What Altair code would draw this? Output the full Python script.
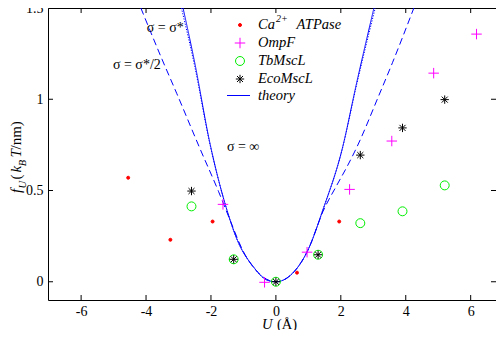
import altair as alt
import pandas as pd

# ---------------- data ----------------
series_names = ["Ca2+ ATPase", "OmpF", "TbMscL", "EcoMscL", "theory"]

ca_u = [-4.55, -3.25, -1.95, 0.65, 1.95]
ca_f = [0.57, 0.23, 0.33, 0.05, 0.33]

ompf_u = [-1.63, -0.35, 0.96, 2.27, 3.57, 4.86, 6.18]
ompf_f = [0.424, -0.003, 0.162, 0.506, 0.771, 1.143, 1.357]

tb_u = [-2.6, -1.3, 0.0, 1.3, 2.6, 3.9, 5.2]
tb_f = [0.413, 0.123, 0.0, 0.148, 0.321, 0.386, 0.528]

eco_u = [-2.6, -1.3, 0.0, 1.3, 2.6, 3.9, 5.2]
eco_f = [0.497, 0.123, 0.0, 0.148, 0.694, 0.843, 0.998]

# theory curves (sigma = infinity, sigma = sigma*, sigma = sigma*/2)
inf_u = [-2.86, -2.5, -2.04, -1.56, -1.18, -0.69, -0.27, 0.0, 0.5, 0.98, 1.47, 2.02, 2.5, 3.02]
inf_f = [1.5, 1.2, 0.766, 0.424, 0.225, 0.081, 0.009, 0.0, 0.044, 0.171, 0.405, 0.712, 1.1, 1.5]

star_u = [-2.91, -2.5, -2.04, -1.56, -1.18, -0.69, -0.27, 0.0, 0.5, 0.98, 1.47, 2.02, 2.5, 3.06]
star_f = [1.5, 1.18, 0.76, 0.424, 0.225, 0.081, 0.009, 0.0, 0.044, 0.171, 0.405, 0.71, 1.09, 1.5]

half_u = [-4.16, -3.51, -3.05, -2.34, -1.77, -1.45, -1.0, -0.5, 0.0, 0.5, 1.0, 1.45, 1.88, 2.19, 2.5, 3.17, 3.59, 4.25]
half_f = [1.5, 1.22, 1.03, 0.73, 0.496, 0.355, 0.165, 0.042, 0.0, 0.044, 0.178, 0.385, 0.53, 0.63, 0.74, 1.02, 1.2, 1.5]

ann_text = ["\u03c3 = \u03c3*", "\u03c3 = \u03c3*/2", "\u03c3 = \u221e"]
ann_u = [-3.98, -5.02, -1.51]
ann_f = [1.388, 1.188, 0.739]

x_ticks = [-6, -4, -2, 0, 2, 4, 6]
y_ticks = [0, 0.5, 1, 1.5]

# ---------------- layout ----------------
W, H = 448, 292
FONT = "Liberation Serif"
COLORS = ["#ff0000", "#ff00ff", "#00ee00", "#000000", "#0000ff"]

rows = []
for name, us, fs in [(series_names[0], ca_u, ca_f), (series_names[1], ompf_u, ompf_f),
                     (series_names[2], tb_u, tb_f), (series_names[3], eco_u, eco_f)]:
    for u, f in zip(us, fs):
        rows.append({"series": name, "u": u, "f": f})
pts = pd.DataFrame(rows)

lrows = []
for name, us, fs in [("inf", inf_u, inf_f), ("star", star_u, star_f), ("half", half_u, half_f)]:
    for u, f in zip(us, fs):
        lrows.append({"curve": name, "u": u, "f": f})
lines_df = pd.DataFrame(lrows)

ann_df = pd.DataFrame({"label": ann_text, "u": ann_u, "f": ann_f})

xs = alt.Scale(domain=[-7.02, 6.78], nice=False, zero=False)
ys = alt.Scale(domain=[-0.1, 1.5], nice=False, zero=False)

x_axis = alt.Axis(values=x_ticks, ticks=False, domain=False, grid=False, title=None,
                  labelExpr="'' + datum.value", labelFont=FONT, labelFontSize=14,
                  labelColor="black", labelPadding=4, labelFlush=False, labelOverlap=False)
y_axis = alt.Axis(values=y_ticks, ticks=False, domain=False, grid=False, title=None,
                  labelExpr="'' + datum.value", labelFont=FONT, labelFontSize=14,
                  labelColor="black", labelPadding=5, labelFlush=False, labelOverlap=False)


def X(field):
    return alt.X(field, scale=xs, axis=x_axis)


def Y(field):
    return alt.Y(field, scale=ys, axis=y_axis)


plus_path = "M-1,0L1,0M0,-1L0,1"
ast_path = "M-1,0L1,0M0,-1L0,1M-0.72,-0.72L0.72,0.72M-0.72,0.72L0.72,-0.72"

color_s = alt.Scale(domain=series_names, range=COLORS)
fill_s = alt.Scale(domain=series_names,
                   range=["#ff0000", "transparent", "transparent", "transparent", "transparent"])
shape_s = alt.Scale(domain=series_names, range=["circle", plus_path, "circle", ast_path, "stroke"])
size_s = alt.Scale(type="ordinal", domain=series_names, range=[9, 110, 80, 70, 500])

lines = alt.Chart(lines_df).mark_line(clip=True, strokeWidth=1, color="#0000ff",
                                      interpolate="monotone").encode(
    x=X("u:Q"), y=Y("f:Q"),
    strokeDash=alt.StrokeDash("curve:N", scale=alt.Scale(domain=["inf", "star", "half"],
                              range=[[1, 0], [1.2, 1.5], [7, 4]]), legend=None),
    detail="curve:N",
)

points = alt.Chart(pts).mark_point(filled=False, opacity=1, strokeWidth=1).encode(
    x=X("u:Q"), y=Y("f:Q"),
    color=alt.Color("series:N", scale=color_s, legend=None),
    fill=alt.Fill("series:N", scale=fill_s, legend=None),
    shape=alt.Shape("series:N", scale=shape_s, legend=None),
    size=alt.Size("series:N", scale=size_s, legend=None),
)

ann = alt.Chart(ann_df).mark_text(align="left", baseline="middle", font=FONT,
                                  fontSize=14, color="black").encode(
    x=X("u:Q"), y=Y("f:Q"), text="label:N",
)

# inward ticks on all four sides
xt_df = pd.DataFrame({"t": x_ticks})
yt_df = pd.DataFrame({"t": y_ticks})
tk = dict(color="black", strokeWidth=1)
xb = alt.Chart(xt_df).mark_rule(**tk).encode(x=X("t:Q"), y=alt.value(H), y2=alt.value(H - 5))
xtp = alt.Chart(xt_df).mark_rule(**tk).encode(x=X("t:Q"), y=alt.value(0), y2=alt.value(5))
yl = alt.Chart(yt_df).mark_rule(**tk).encode(y=Y("t:Q"), x=alt.value(0), x2=alt.value(5))
yr = alt.Chart(yt_df).mark_rule(**tk).encode(y=Y("t:Q"), x=alt.value(W), x2=alt.value(W - 5))

# ---------------- hand-placed legend ----------------
row_y = [17, 35, 53, 71, 87.5]
leg_sym = pd.DataFrame({"series": series_names[:4], "px": [192] * 4, "py": row_y[:4]})
leg_points = alt.Chart(leg_sym).mark_point(filled=False, opacity=1, strokeWidth=1).encode(
    x=alt.X("px:Q", scale=None), y=alt.Y("py:Q", scale=None),
    color=alt.Color("series:N", scale=color_s, legend=None),
    fill=alt.Fill("series:N", scale=fill_s, legend=None),
    shape=alt.Shape("series:N", scale=shape_s, legend=None),
    size=alt.Size("series:N", scale=size_s, legend=None),
)
leg_line = alt.Chart(pd.DataFrame({"series": [series_names[4]]})).mark_rule(
    color=COLORS[4], strokeWidth=1).encode(
    x=alt.value(179), x2=alt.value(202), y=alt.value(row_y[4]))

leg_txt = pd.DataFrame({
    "txt": ["Ca", "2+", "ATPase", series_names[1], series_names[2], series_names[3], series_names[4]],
    "px": [210, 228, 248.5, 210, 210, 210, 210],
    "py": [row_y[0], row_y[0] - 6, row_y[0], row_y[1], row_y[2], row_y[3], row_y[4]],
    "fs": [14.5, 10, 14.5, 14.5, 14.5, 14.5, 14.5],
})
leg_labels = alt.Chart(leg_txt).mark_text(align="left", baseline="middle", font=FONT,
                                          fontStyle="italic", color="black").encode(
    x=alt.X("px:Q", scale=None), y=alt.Y("py:Q", scale=None), text="txt:N",
    size=alt.Size("fs:Q", scale=None))

# ---------------- axis titles built from pieces ----------------
ital_df = pd.DataFrame({
    "txt": ["f", "U", "k", "B", "T", "U"],
    "px": [-27, -22, -27, -22, -27, 214],
    "py": [185, 180.5, 164.5, 158.3, 149.5, 320.5],
    "fs": [15, 10.5, 15, 10.5, 15, 14.5],
    "ang": [270, 270, 270, 270, 270, 0],
})
norm_df = pd.DataFrame({
    "txt": ["(", "/nm)", "(\u00c5)"],
    "px": [-27, -27, 229],
    "py": [171.5, 141.5, 320.5],
    "fs": [15, 15, 14.5],
    "ang": [270, 270, 0],
})
ital = alt.Chart(ital_df).mark_text(align="left", baseline="alphabetic", font=FONT,
                                    fontStyle="italic", color="black").encode(
    x=alt.X("px:Q", scale=None), y=alt.Y("py:Q", scale=None), text="txt:N",
    size=alt.Size("fs:Q", scale=None), angle=alt.Angle("ang:Q", scale=None))
norm = alt.Chart(norm_df).mark_text(align="left", baseline="alphabetic", font=FONT,
                                    color="black").encode(
    x=alt.X("px:Q", scale=None), y=alt.Y("py:Q", scale=None), text="txt:N",
    size=alt.Size("fs:Q", scale=None), angle=alt.Angle("ang:Q", scale=None))

chart = alt.layer(lines, xb, xtp, yl, yr, ann, points,
                  leg_line, leg_points, leg_labels, ital, norm).properties(
    width=W, height=H,
    autosize=alt.AutoSizeParams(type="none"),
    padding={"left": 40, "top": 0, "right": 0, "bottom": 30},
    background="white",
).configure_view(stroke="black", strokeWidth=1)

chart.save("out.html", embed_options={"renderer": "svg", "actions": False})
